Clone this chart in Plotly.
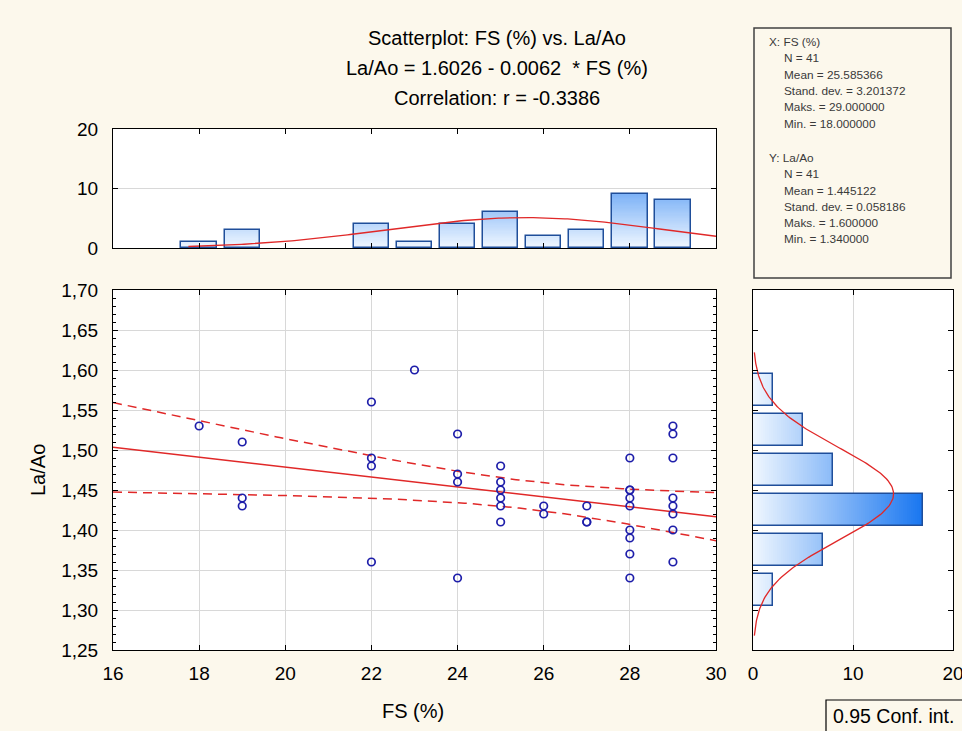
import numpy as np
import plotly.graph_objects as go

# ---------------- data ----------------
fs_x = [18,
        19, 19, 19,
        22, 22, 22, 22,
        23,
        24, 24, 24, 24,
        25, 25, 25, 25, 25, 25,
        26, 26,
        27, 27, 27,
        28, 28, 28, 28, 28, 28, 28, 28, 28,
        29, 29, 29, 29, 29, 29, 29, 29]
la_ao_y = [1.53,
           1.51, 1.44, 1.43,
           1.56, 1.49, 1.48, 1.36,
           1.60,
           1.52, 1.47, 1.46, 1.34,
           1.48, 1.46, 1.45, 1.44, 1.43, 1.41,
           1.43, 1.42,
           1.43, 1.41, 1.41,
           1.49, 1.45, 1.45, 1.44, 1.43, 1.40, 1.39, 1.37, 1.34,
           1.53, 1.52, 1.49, 1.44, 1.43, 1.42, 1.40, 1.36]

# top histogram (FS %)
fs_bins = [18, 19, 22, 23, 24, 25, 26, 27, 28, 29]
fs_counts = [1, 3, 4, 1, 4, 6, 2, 3, 9, 8]
# right histogram (La/Ao)
la_bins = [1.575, 1.525, 1.475, 1.425, 1.375, 1.325]
la_counts = [2, 5, 8, 17, 7, 2]

# statistics shown on the chart
N = 41
fs_mean, fs_sd, fs_max, fs_min = 25.585366, 3.201372, 29.0, 18.0
la_mean, la_sd, la_max, la_min = 1.445122, 0.058186, 1.60, 1.34
intercept, slope, r_corr = 1.6026, -0.0062, -0.3386
t_crit = 2.0227  # t(0.975, 39)

x_ticks = list(range(16, 31, 2))
y_ticks = [1.25, 1.30, 1.35, 1.40, 1.45, 1.50, 1.55, 1.60, 1.65, 1.70]

# ---------------- geometry helpers ----------------
W, H = 962, 731
def PX(p): return p / W
def PY(p): return 1 - p / H

BG = '#FCF8EC'
RED = '#E02828'
BAR_LINE = '#1F4E9A'
c0 = np.array([240, 247, 255])
c1 = np.array([24, 118, 240])
def grad(v, vmax=17.0):
    f = min(max(v / vmax, 0), 1)
    c = c0 + (c1 - c0) * f
    return 'rgb(%d,%d,%d)' % tuple(c.round().astype(int))

fig = go.Figure()

# ---------------- regression line and confidence band ----------------
xs = np.linspace(16, 30, 200)
yhat = intercept + slope * xs
s_res = la_sd * np.sqrt((1 - r_corr ** 2) * (N - 1) / (N - 2))
Sxx = (N - 1) * fs_sd ** 2
half = t_crit * s_res * np.sqrt(1.0 / N + (xs - fs_mean) ** 2 / Sxx)

fig.add_trace(go.Scatter(x=xs, y=yhat + half, mode='lines', xaxis='x', yaxis='y',
                         line=dict(color=RED, width=1.5, dash='9px,6px'), showlegend=False))
fig.add_trace(go.Scatter(x=xs, y=yhat - half, mode='lines', xaxis='x', yaxis='y',
                         line=dict(color=RED, width=1.5, dash='9px,6px'), showlegend=False))
fig.add_trace(go.Scatter(x=xs, y=yhat, mode='lines', xaxis='x', yaxis='y',
                         line=dict(color=RED, width=1.5), showlegend=False))
fig.add_trace(go.Scatter(x=fs_x, y=la_ao_y, mode='markers', xaxis='x', yaxis='y',
                         marker=dict(symbol='circle-open', size=7.5, color='#1E1EAA',
                                     line=dict(width=1.7, color='#1E1EAA')),
                         showlegend=False))

# ---------------- top histogram (gradient bars) ----------------
step = 0.2
nlev = int(np.ceil(max(fs_counts) / step))
for k in range(nlev):
    b = k * step
    lens = [max(c - b, 0) for c in fs_counts]
    fig.add_trace(go.Bar(x=fs_bins, y=lens, base=[b] * len(fs_bins), width=0.82,
                         xaxis='x2', yaxis='y2', marker=dict(color=grad(b + step / 2), line=dict(width=0)),
                         showlegend=False, hoverinfo='skip'))
fig.add_trace(go.Bar(x=fs_bins, y=fs_counts, width=0.82, xaxis='x2', yaxis='y2',
                     marker=dict(color='rgba(0,0,0,0)', line=dict(color=BAR_LINE, width=1.5)),
                     showlegend=False))
xn = np.linspace(17.75, 30, 200)
yn = N * 1.0 / (fs_sd * np.sqrt(2 * np.pi)) * np.exp(-0.5 * ((xn - fs_mean) / fs_sd) ** 2)
fig.add_trace(go.Scatter(x=xn, y=yn, mode='lines', xaxis='x2', yaxis='y2',
                         line=dict(color=RED, width=1.3), showlegend=False))

# ---------------- right histogram (gradient bars) ----------------
nlev = int(np.ceil(max(la_counts) / step))
for k in range(nlev):
    b = k * step
    lens = [max(c - b, 0) for c in la_counts]
    fig.add_trace(go.Bar(y=la_bins, x=lens, base=[b] * len(la_bins), width=0.04, orientation='h',
                         xaxis='x3', yaxis='y3', marker=dict(color=grad(b + step / 2), line=dict(width=0)),
                         showlegend=False, hoverinfo='skip'))
fig.add_trace(go.Bar(y=la_bins, x=la_counts, width=0.04, orientation='h', xaxis='x3', yaxis='y3',
                     marker=dict(color='rgba(0,0,0,0)', line=dict(color=BAR_LINE, width=1.5)),
                     showlegend=False))
yn2 = np.linspace(1.268, 1.622, 200)
xn2 = N * 0.05 / (la_sd * np.sqrt(2 * np.pi)) * np.exp(-0.5 * ((yn2 - la_mean) / la_sd) ** 2)
fig.add_trace(go.Scatter(x=xn2, y=yn2, mode='lines', xaxis='x3', yaxis='y3',
                         line=dict(color=RED, width=1.3), showlegend=False))

# ---------------- layout ----------------
FONT = 'Liberation Sans, Arial, sans-serif'
axis_common = dict(showline=True, linecolor='black', linewidth=1, mirror='ticks',
                   ticks='inside', tickcolor='black', ticklen=5, zeroline=False, automargin=False,
                   tickfont=dict(family=FONT, size=19, color='black'))

main_x = [PX(113), PX(716)]
main_y = [PY(650), PY(290)]

fig.update_layout(
    width=W, height=H, margin=dict(l=0, r=0, t=0, b=0, pad=0, autoexpand=False),
    paper_bgcolor=BG, plot_bgcolor='white', barmode='overlay', bargap=0,
    separators=',.', showlegend=False,
    font=dict(family=FONT, color='black'),
    xaxis=dict(domain=main_x, range=[16, 30], tickvals=x_ticks, showgrid=True,
               gridcolor='#D8D8D8', gridwidth=1, anchor='y', ticklabelstandoff=6, **axis_common),
    yaxis=dict(domain=main_y, range=[1.25, 1.70], tickvals=y_ticks, tickformat='.2f', showgrid=True,
               gridcolor='#D8D8D8', gridwidth=1, anchor='x', ticklabelstandoff=10,
               minor=dict(dtick=0.01, ticks='inside', ticklen=3, tickcolor='black', showgrid=False),
               **axis_common),
    xaxis2=dict(domain=main_x, range=[16, 30], tickvals=x_ticks, showticklabels=False, showgrid=False,
                anchor='y2', **axis_common),
    yaxis2=dict(domain=[PY(248), PY(129)], range=[0, 20], tickvals=[0, 10, 20], showgrid=True,
                gridcolor='#D8D8D8', anchor='x2', ticklabelstandoff=10, **axis_common),
    xaxis3=dict(domain=[PX(753), PX(953)], range=[0, 20], tickvals=[0, 10, 20], showgrid=True,
                gridcolor='#D8D8D8', anchor='y3', ticklabelstandoff=6, ticklabeloverflow='allow',
                **axis_common),
    yaxis3=dict(domain=main_y, range=[1.25, 1.70], tickvals=y_ticks, showticklabels=False, showgrid=False,
                anchor='x3', **axis_common),
)

ann = []
def text(s, x, y, size=20, xanchor='center', color='black', angle=0):
    ann.append(dict(text=s, x=PX(x), y=PY(y), xref='paper', yref='paper', showarrow=False,
                    xanchor=xanchor, yanchor='middle', textangle=angle,
                    font=dict(family=FONT, size=size, color=color)))

text('Scatterplot: FS (%) vs. La/Ao', 497, 38)
text('La/Ao = %.4f - %.4f\u00a0 * FS (%%)' % (intercept, -slope), 497, 68)
text('Correlation: r = %.4f' % r_corr, 497, 98)
text('FS (%)', 413, 711)
text('La/Ao', 38, 470, angle=-90)

sc = '#3A3A3A'
ss = 11.8
stats_lines = [
    ('X: FS (%)', 767, 42),
    ('N = %d' % N, 782, 58.3),
    ('Mean = %.6f' % fs_mean, 782, 74.6),
    ('Stand. dev. = %.6f' % fs_sd, 782, 90.9),
    ('Maks. = %.6f' % fs_max, 782, 107.2),
    ('Min. = %.6f' % fs_min, 782, 123.5),
    ('Y: La/Ao', 767, 158),
    ('N = %d' % N, 782, 174.3),
    ('Mean = %.6f' % la_mean, 782, 190.6),
    ('Stand. dev. = %.6f' % la_sd, 782, 206.9),
    ('Maks. = %.6f' % la_max, 782, 223.2),
    ('Min. = %.6f' % la_min, 782, 239.5),
]
for s, x, y in stats_lines:
    text(s, x, y, size=ss, xanchor='left', color=sc)

text('0.95 Conf. int.', 831, 716, size=19.5, xanchor='left')

fig.update_layout(annotations=ann, shapes=[
    dict(type='rect', xref='paper', yref='paper', x0=PX(754), x1=PX(951), y0=PY(278), y1=PY(28),
         line=dict(color='#404040', width=1.5), fillcolor='rgba(0,0,0,0)'),
    dict(type='rect', xref='paper', yref='paper', x0=PX(826), x1=PX(975), y0=PY(745), y1=PY(700),
         line=dict(color='black', width=1.2), fillcolor='rgba(0,0,0,0)'),
])

fig.write_html('out.html', config={'displayModeBar': False},
               post_script="document.body.style.margin='0';document.body.style.padding='0';"
                           "document.body.style.background='%s';document.body.style.overflow='hidden';" % BG)
